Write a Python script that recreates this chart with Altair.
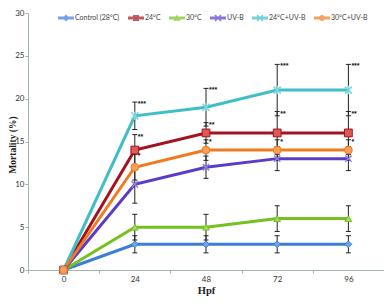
import altair as alt
import pandas as pd

hpf = ["0", "24", "48", "72", "96"]
series = ["Control (28°C)", "24°C", "30°C", "UV-B", "24°C+UV-B", "30°C+UV-B"]

control = [0, 3, 3, 3, 3]
t24 = [0, 14, 16, 16, 16]
t30 = [0, 5, 5, 6, 6]
uvb = [0, 10, 12, 13, 13]
t24uvb = [0, 18, 19, 21, 21]
t30uvb = [0, 12, 14, 14, 14]

err_control = [0, 1, 1, 1, 1]
err_t24 = [0, 1.8, 1.2, 2.5, 2.5]
err_t30 = [0, 1.5, 1.5, 1.5, 1.5]
err_uvb = [0, 2.2, 1.3, 1.4, 1.4]
err_t24uvb = [0, 1.6, 2.2, 3, 3]
err_t30uvb = [0, 1.5, 1.2, 1.2, 1.2]

stars = ["", "**", "", "", "***", "*"]

values = [control, t24, t30, uvb, t24uvb, t30uvb]
errors = [err_control, err_t24, err_t30, err_uvb, err_t24uvb, err_t30uvb]

line_colors = ["#3b7dd8", "#a3121f", "#76c11f", "#5a3cc8", "#3fbec7", "#f07a1e"]
marker_fill = ["#6fa3e6", "#dc5a55", "#a6d96a", "#8f80d8", "#7fd6dc", "#f5a15c"]
marker_shape = [
    "diamond",
    "square",
    "triangle-up",
    "M-1,-1L1,1M-1,1L1,-1",
    "M-1,-1L1,1M-1,1L1,-1M0,-1.2L0,1.2",
    "circle",
]
marker_filled = [True, True, True, False, False, True]
marker_size = [45, 60, 45, 40, 50, 60]

LINE = "M-1.6,-0.3H1.6V0.3H-1.6Z"
XSHAPE = ("M-0.494,-0.706L0.706,0.494L0.494,0.706L-0.706,-0.494Z"
          "M-0.706,0.494L0.494,-0.706L0.706,-0.494L-0.494,0.706Z")
legend_paths = [
    LINE + "M0,-0.7L0.7,0L0,0.7L-0.7,0Z",
    LINE + "M-0.6,-0.6H0.6V0.6H-0.6Z",
    LINE + "M0,-0.7L0.7,0.55H-0.7Z",
    LINE + XSHAPE,
    LINE + XSHAPE,
    LINE + "M-0.6,0A0.6,0.6 0 1,1 0.6,0A0.6,0.6 0 1,1 -0.6,0Z",
]

rows = []
for si, s in enumerate(series):
    for hi, h in enumerate(hpf):
        v = values[si][hi]
        e = errors[si][hi]
        rows.append({
            "hpf": h, "series": s, "value": v, "err": e,
            "lo": v - e, "hi": v + e,
            "star": stars[si] if e > 0 else "",
        })
df = pd.DataFrame(rows)

axis_col = "#a3b5ae"
sans = "Lato, Open Sans, sans-serif"
serif = "Liberation Serif, Times New Roman, serif"
H = 257

x_enc = alt.X(
    "hpf:O", sort=hpf, bandPosition=0.5, title="Hpf",
    scale=alt.Scale(type="band", domain=hpf, paddingInner=0, paddingOuter=0),
    axis=alt.Axis(tickBand="extent", labelAngle=0, domainColor=axis_col, tickColor=axis_col,
                  tickSize=3, labelFont=sans, labelFontSize=8, labelColor="#333",
                  labelPadding=2, titleFont=serif, titleFontWeight="bold", titleFontSize=10.5,
                  titleColor="#222", titleY=20, titleBaseline="middle"),
)
y_enc = alt.Y(
    "value:Q", title="Mortality (%)",
    scale=alt.Scale(domain=[0, 30], nice=False),
    axis=alt.Axis(values=[0, 5, 10, 15, 20, 25, 30], grid=False, domainColor=axis_col,
                  tickColor=axis_col, tickSize=3, labelFont=sans, labelFontSize=8,
                  labelColor="#333", labelPadding=1, titleFont=serif, titleFontWeight="bold",
                  titleFontSize=9.5, titleColor="#222", titleX=-16, titleY=H / 2 + 3,
                  titleAngle=-90, titleAlign="center", titleBaseline="middle"),
)

base = alt.Chart(df)

# legend-only layer: its points sit below the plot area and are clipped away
legend_layer = base.transform_filter(alt.datum.hpf == "0").transform_calculate(
    hidden="-10"
).mark_point(filled=True, size=100, clip=True).encode(
    x=x_enc, y=alt.Y("hidden:Q"),
    color=alt.Color("series:N", sort=series,
                    scale=alt.Scale(domain=series, range=line_colors),
                    legend=alt.Legend(orient="none", legendX=33, legendY=0, direction="horizontal",
                                      title=None, labelFont=sans, labelFontSize=7,
                                      labelColor="#444", symbolSize=100, symbolStrokeWidth=0,
                                      labelOffset=4, columnPadding=8, gridAlign="none",
                                      padding=0)),
    shape=alt.Shape("series:N", sort=series,
                    scale=alt.Scale(domain=series, range=legend_paths)),
)

lines = base.mark_line(strokeWidth=3).encode(
    x=x_enc, y=y_enc,
    color=alt.Color("series:N", sort=series,
                    scale=alt.Scale(domain=series, range=line_colors), legend=None),
)

bars_df = base.transform_filter(alt.datum.err > 0)
err_rules = bars_df.mark_rule(color="#222", strokeWidth=1).encode(
    x=x_enc, y=alt.Y("lo:Q"), y2="hi:Q"
)
cap_lo = bars_df.mark_point(shape="M-1,0L1,0", size=25, color="#222", strokeWidth=1,
                            filled=False, opacity=1).encode(x=x_enc, y=alt.Y("lo:Q"))
cap_hi = bars_df.mark_point(shape="M-1,0L1,0", size=25, color="#222", strokeWidth=1,
                            filled=False, opacity=1).encode(x=x_enc, y=alt.Y("hi:Q"))

point_layers = []
for si, s in enumerate(series):
    if marker_filled[si]:
        mk = dict(shape=marker_shape[si], size=marker_size[si], filled=True,
                  fill=marker_fill[si], stroke=line_colors[si], strokeWidth=1, opacity=1)
    else:
        mk = dict(shape=marker_shape[si], size=marker_size[si], filled=False,
                  stroke=marker_fill[si], strokeWidth=1.6, opacity=1)
    point_layers.append(
        base.transform_filter(alt.datum.series == s).mark_point(**mk).encode(x=x_enc, y=y_enc)
    )

star_text = base.transform_filter(alt.datum.star != "").mark_text(
    align="left", baseline="alphabetic", dx=3, dy=4, fontSize=7, fontWeight="bold",
    font="Liberation Sans", color="#111"
).encode(x=x_enc, y=alt.Y("hi:Q"), text="star:N")

chart = alt.layer(
    legend_layer, lines, err_rules, cap_lo, cap_hi, *point_layers, star_text
).properties(
    width=356, height=H,
    padding={"left": 20, "top": 5, "right": 0, "bottom": 26},
    autosize=alt.AutoSizeParams(type="none"),
    background="white",
).configure_view(stroke=None)

chart.save("out.html", embed_options={"renderer": "svg", "actions": False})
